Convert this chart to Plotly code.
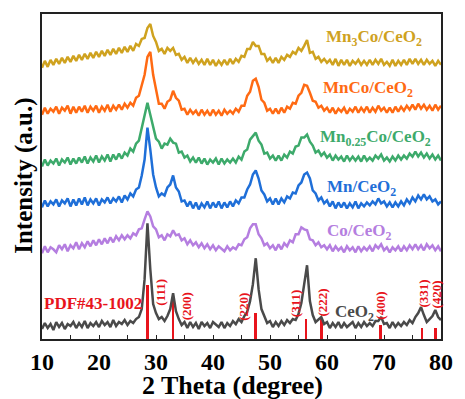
import numpy as np
import plotly.graph_objects as go

# 2-theta sampling grid (degrees)
two_theta = np.arange(10.0, 80.001, 0.5)

# intensities (a.u., already stacked with offsets)
ceo2 = [10,16,11,15,9,17,12,16,10,15,13,17,11,16,12,18,11,16,13,17,12,18,14,17,12,19,13,17,15,19,14,
        18,16,20,22,30,60,116,70,35,26,20,22,18,23,30,46,28,20,14,17,
        11,17,12,16,10,17,13,16,11,17,14,12,17,11,16,13,18,15,
        20,17,23,27,38,55,81,50,30,22,16,18,
        12,17,13,18,14,19,16,
        20,19,25,36,55,74,38,24,17,20,22,15,17,
        11,16,12,17,11,16,12,15,17,11,16,12,17,13,16,
        13,18,18,22,15,16,
        11,17,12,16,13,17,14,19,
        16,22,26,32,24,17,20,23,29,22,19]
co_ceo2 = [86,93,87,92,90,87,94,90,95,88,94,91,97,90,96,92,98,93,99,94,100,95,101,96,102,97,103,99,104,100,104,
           101,106,104,110,111,120,128,123,113,110,102,104,99,105,103,109,104,105,99,101,
           95,99,94,97,92,96,91,95,90,94,89,93,90,88,93,89,92,90,
           95,94,100,102,111,115,115,105,101,94,96,91,
           94,89,95,90,96,93,99,
           97,105,105,112,110,109,100,99,94,97,92,94,90,
           94,88,93,89,92,87,93,89,92,87,93,88,92,89,93,
           88,94,91,95,89,92,
           87,92,89,93,88,93,89,94,
           90,95,90,94,89,95,91,94,89,93,88]
mn_ceo2 = [132,139,133,138,135,140,133,139,136,141,133,140,134,141,135,142,134,140,136,141,134,140,137,142,136,141,138,143,137,144,140,
           146,143,150,152,164,180,212,190,165,152,143,146,144,152,155,164,152,148,138,139,
           133,138,131,137,130,136,132,138,131,137,132,138,131,137,132,138,133,139,
           136,142,142,150,155,165,169,161,149,145,138,141,
           135,141,135,141,137,143,141,
           147,146,154,157,165,167,161,149,146,139,142,136,139,
           133,138,131,137,132,137,131,136,132,138,131,136,133,137,134,
           138,135,141,136,138,133,
           137,132,137,133,138,134,140,136,
           142,138,144,140,145,140,143,138,140,135,138]
mn025co_ceo2 = [173,180,174,179,176,181,174,180,177,182,175,181,176,182,177,183,176,182,178,184,177,183,179,185,178,185,180,186,181,187,184,
                191,188,196,199,212,223,237,225,213,201,198,191,196,195,201,197,196,187,188,182,
                184,178,182,177,182,176,181,175,180,177,181,175,181,176,180,177,181,177,
                183,180,188,190,200,203,207,199,195,186,187,181,
                184,179,184,179,185,182,188,
                186,193,194,202,202,205,198,194,187,189,184,187,182,
                185,179,184,180,183,178,184,179,183,179,183,178,184,179,182,
                179,184,181,185,179,182,
                178,183,179,184,180,184,181,186,
                183,188,183,187,182,186,181,185,180,184,179]
mnco_ceo2 = [225,232,226,231,228,233,226,232,229,234,226,233,227,233,228,234,227,233,229,234,227,233,229,235,228,234,230,235,230,236,232,
             237,234,242,244,256,265,283,288,265,250,236,236,231,238,240,249,242,239,230,231,
             225,230,226,229,224,230,225,229,224,230,225,229,224,230,226,229,226,231,
             228,234,234,244,248,259,261,253,240,237,229,231,
             226,231,226,232,227,233,231,
             237,236,244,247,255,254,247,239,238,232,234,229,232,
             227,232,226,231,228,232,226,231,228,233,227,232,228,233,227,
             232,228,234,229,232,227,
             232,227,233,228,233,229,234,230,
             235,230,236,231,235,230,234,229,235,230,234]
mn3co_ceo2 = [272,279,273,280,275,281,276,282,277,283,278,284,279,285,280,286,281,287,282,288,283,289,284,290,285,291,286,292,287,293,288,
              294,289,296,294,301,302,312,316,304,298,289,291,286,292,289,292,285,286,280,283,
              277,282,277,281,276,280,275,281,275,280,274,279,275,280,275,281,276,281,
              278,284,283,291,291,298,294,294,286,286,279,282,
              277,282,277,283,280,285,283,
              288,286,292,289,294,300,287,288,281,283,278,281,277,
              280,275,281,274,280,275,280,274,279,276,280,275,279,275,280,
              275,280,276,281,275,278,
              274,280,274,279,275,280,275,281,
              276,281,276,280,275,280,276,279,274,279,275]

# PDF#43-1002 reference lines
pdf_pos = [28.55, 33.08, 47.48, 56.34, 59.09, 69.42, 76.70, 79.07]
pdf_height = [54, 46, 26, 20, 20, 14, 11, 11]
hkl_labels = ["(111)", "(200)", "(220)", "(311)", "(222)", "(400)", "(331)", "(420)"]
hkl_x = [30.8, 35.3, 45.2, 54.4, 59.2, 69.4, 76.9, 79.2]
hkl_y = [47, 33, 32, 35, 37, 33, 46, 45]

series_names = ["CeO<sub>2</sub>", "Co/CeO<sub>2</sub>", "Mn/CeO<sub>2</sub>",
                "Mn<sub>0.25</sub>Co/CeO<sub>2</sub>", "MnCo/CeO<sub>2</sub>", "Mn<sub>3</sub>Co/CeO<sub>2</sub>"]
series_data = [ceo2, co_ceo2, mn_ceo2, mn025co_ceo2, mnco_ceo2, mn3co_ceo2]
series_colors = ["#4a4a4a", "#b57ee0", "#1f6fd8", "#3daa6b", "#ff6a13", "#cfa21f"]
label_x = [61.1, 59.6, 59.6, 58.5, 59.0, 59.4]
label_y = [26, 107, 151, 202, 251, 302]

red = "#e8141c"
FONT = "Liberation Serif"

fig = go.Figure()
for name, ys, col in zip(series_names, series_data, series_colors):
    fig.add_trace(go.Scatter(x=two_theta, y=ys, mode="lines", name=name,
                             line=dict(color=col, width=2.5), showlegend=False))

fig.add_trace(go.Bar(x=pdf_pos, y=pdf_height, base=0, width=0.32,
                     marker=dict(color=red, line=dict(width=0)), showlegend=False))

annotations = []
for t, x, y, col in zip(series_names, label_x, label_y, series_colors):
    annotations.append(dict(x=x, y=y, xref="x", yref="y", text="<b>%s</b>" % t,
                            showarrow=False, xanchor="left", yanchor="middle",
                            font=dict(family=FONT, size=17, color=col)))
for t, x, y in zip(hkl_labels, hkl_x, hkl_y):
    annotations.append(dict(x=x, y=y, xref="x", yref="y", text="<b>%s</b>" % t,
                            showarrow=False, textangle=-90,
                            font=dict(family=FONT, size=13, color=red)))
annotations.append(dict(x=10.05, y=36, xref="x", yref="y", text="<b>PDF#43-1002</b>",
                        showarrow=False, xanchor="left", yanchor="middle",
                        font=dict(family=FONT, size=17, color=red)))
annotations.append(dict(x=0.478, y=-0.143, xref="paper", yref="paper",
                        text="<b>2 Theta (degree)</b>", showarrow=False,
                        xanchor="center", yanchor="middle",
                        font=dict(family=FONT, size=26, color="black")))
annotations.append(dict(x=-0.047, y=0.503, xref="paper", yref="paper",
                        text="<b>Intensity (a.u.)</b>", showarrow=False, textangle=-90,
                        xanchor="center", yanchor="middle",
                        font=dict(family=FONT, size=25, color="black")))

fig.update_layout(
    width=465, height=399,
    margin=dict(l=42, r=19, t=13, b=60),
    paper_bgcolor="white", plot_bgcolor="white",
    annotations=annotations,
    bargap=0,
)
fig.update_xaxes(range=[10, 80], dtick=10, tick0=10, ticks="inside", ticklen=4, tickwidth=1.2,
                 tickcolor="#222", showline=True, linecolor="#222", linewidth=1.5, mirror=True,
                 showgrid=False, zeroline=False,
                 tickfont=dict(family=FONT, size=24, color="black", weight="bold"),
                 minor=dict(dtick=5, ticks="inside", ticklen=4, tickwidth=1.2, tickcolor="#222"))
fig.update_yaxes(range=[0, 326], showticklabels=False, ticks="", showline=True,
                 linecolor="#222", linewidth=1.5, mirror=True, showgrid=False, zeroline=False)

fig.write_html("out.html")
